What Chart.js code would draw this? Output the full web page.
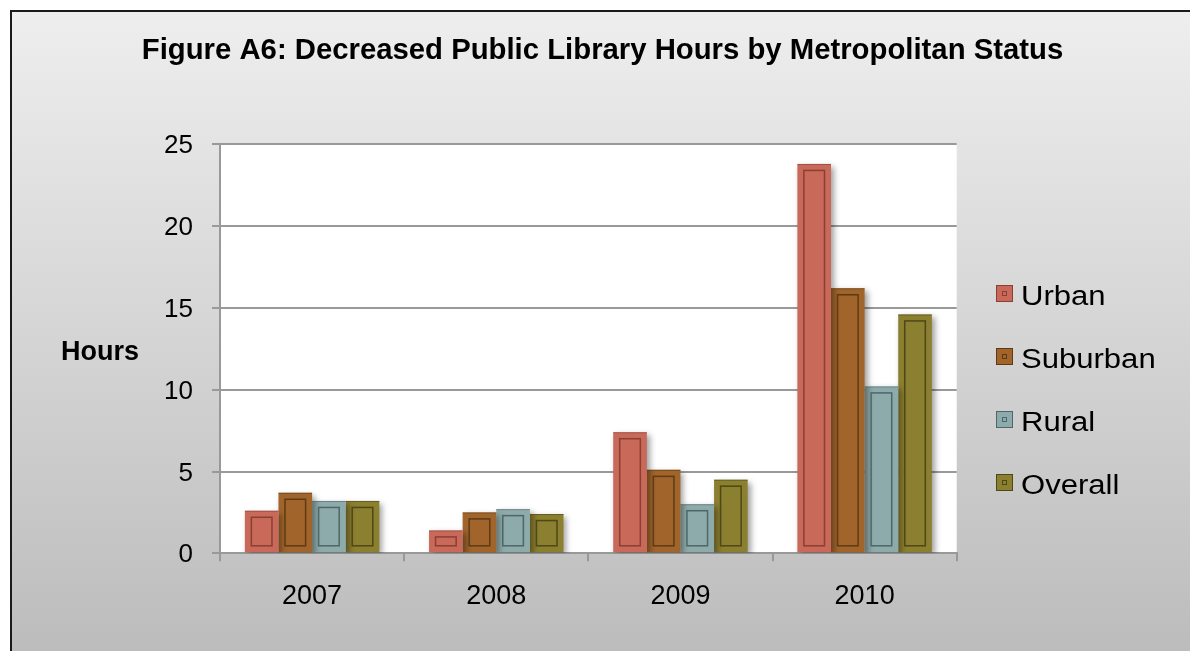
<!DOCTYPE html>
<html><head><meta charset="utf-8">
<script src="https://cdn.jsdelivr.net/npm/chart.js@4.4.1/dist/chart.umd.min.js"></script>
<style>
html,body{margin:0;padding:0;background:#fff;width:1190px;height:651px;overflow:hidden}
#frame{position:absolute;left:10px;top:10px;width:1200px;height:700px;border-top:2px solid #1a1a1a;border-left:2px solid #1a1a1a;background:linear-gradient(to bottom,#eeeeee 0px,#bcbcbc 641px);}
#wrap{position:absolute;left:0;top:0;width:1190px;height:651px}
</style></head><body>
<div id="frame"></div>
<div id="wrap"><canvas id="c" width="1190" height="651"></canvas></div>
<script>
const chartTitle = 'Figure A6: Decreased Public Library Hours by Metropolitan Status';
const yAxisLabel = 'Hours';
const categories = ['2007', '2008', '2009', '2010'];
const seriesNames = ['Urban', 'Suburban', 'Rural', 'Overall'];
const urban    = [2.6, 1.4, 7.4, 23.8];
const suburban = [3.7, 2.5, 5.1, 16.2];
const rural    = [3.2, 2.7, 3.0, 10.2];
const overall  = [3.2, 2.4, 4.5, 14.6];
const yTicks = [0, 5, 10, 15, 20, 25];

const FONT = '"Liberation Sans", Arial, sans-serif';
const fills = ['#c8695a', '#a1652b', '#8eabab', '#8b7f30'];
const darks = ['#8a3f33', '#5e3a14', '#4e6668', '#4f4716'];

const plotBg = {
  id: 'plotBg',
  beforeDraw(chart) {
    const {ctx, chartArea: a} = chart;
    ctx.save(); ctx.fillStyle = '#ffffff';
    ctx.fillRect(a.left, a.top, a.right - a.left, a.bottom - a.top);
    ctx.restore();
  }
};

const barStyle = {
  id: 'barStyle',
  beforeDatasetsDraw(chart) {
    const ctx = chart.ctx;
    ctx.save();
    ctx.shadowColor = 'rgba(0,0,0,0.38)';
    ctx.shadowBlur = 6;
    ctx.shadowOffsetX = 3;
    ctx.shadowOffsetY = 3;
  },
  afterDatasetsDraw(chart) {
    const ctx = chart.ctx;
    ctx.restore();
    ctx.save();
    chart.data.datasets.forEach((ds, di) => {
      const meta = chart.getDatasetMeta(di);
      meta.data.forEach(el => {
        const p = el.getProps(['x', 'y', 'base', 'width'], true);
        const l = p.x - p.width / 2, h = p.base - p.y;
        ctx.strokeStyle = darks[di];
        ctx.globalAlpha = 0.6;
        ctx.lineWidth = 1;
        ctx.beginPath();
        ctx.moveTo(l, p.y + 0.5); ctx.lineTo(l + p.width, p.y + 0.5);
        ctx.stroke();
        ctx.globalAlpha = 1;
        if (h < 14) return;
        ctx.lineWidth = 1.5;
        ctx.strokeRect(l + 6.5, p.y + 6.5, p.width - 13, h - 13);
      });
    });
    ctx.restore();
  }
};

const texts = {
  id: 'texts',
  afterDraw(chart) {
    const ctx = chart.ctx;
    ctx.save();
    ctx.fillStyle = '#000';
    ctx.textAlign = 'center';
    ctx.textBaseline = 'alphabetic';
    ctx.font = 'bold 29.3px ' + FONT;
    ctx.fillText(chartTitle, 602.5, 59);
    ctx.textAlign = 'left';
    ctx.font = 'bold 27px ' + FONT;
    ctx.fillText(yAxisLabel, 61, 359.5);
    // legend
    chart.data.datasets.forEach((ds, i) => {
      const cy = 293.5 + i * 63;
      ctx.fillStyle = fills[i];
      ctx.fillRect(996, cy - 8.5, 17, 17);
      ctx.strokeStyle = darks[i];
      ctx.lineWidth = 1;
      ctx.strokeRect(996.5, cy - 8, 16, 16);
      ctx.strokeRect(1002.5, cy - 2, 4, 4);
      ctx.fillStyle = '#000';
      ctx.font = '27px ' + FONT;
      ctx.save();
      ctx.translate(1021, cy + 11);
      ctx.scale(1.15, 1);
      ctx.fillText(ds.label, 0, 0);
      ctx.restore();
    });
    ctx.restore();
  }
};

const seriesData = [urban, suburban, rural, overall];
new Chart(document.getElementById('c'), {
  type: 'bar',
  data: {
    labels: categories,
    datasets: seriesNames.map((n, i) => ({
      label: n,
      data: seriesData[i],
      backgroundColor: fills[i],
      borderColor: darks[i],
      borderWidth: 0,
      categoryPercentage: 0.73,
      barPercentage: 1
    }))
  },
  options: {
    responsive: false,
    animation: false,
    devicePixelRatio: 1,
    layout: {padding: {left: 0, top: 144.3, right: 233.3, bottom: 0}},
    plugins: {legend: {display: false}, title: {display: false}, tooltip: {enabled: false}},
    scales: {
      x: {
        afterFit(s) { s.height = 97.7; },
        grid: {display: true, drawOnChartArea: false, drawTicks: true, tickLength: 8, color: '#999999', lineWidth: 2},
        border: {display: true, color: '#999999', width: 2},
        ticks: {color: '#000', font: {family: FONT, size: 27}, padding: 19}
      },
      y: {
        min: 0, max: 25,
        afterFit(s) { s.width = 220; },
        afterBuildTicks(s) { s.ticks = yTicks.map(v => ({value: v})); },
        grid: {color: '#999999', lineWidth: 2, tickLength: 8, drawTicks: true},
        border: {display: true, color: '#999999', width: 2},
        ticks: {color: '#000', font: {family: FONT, size: 26}, padding: 19, labelOffset: 2}
      }
    }
  },
  plugins: [plotBg, barStyle, texts]
});
</script>
</body></html>
